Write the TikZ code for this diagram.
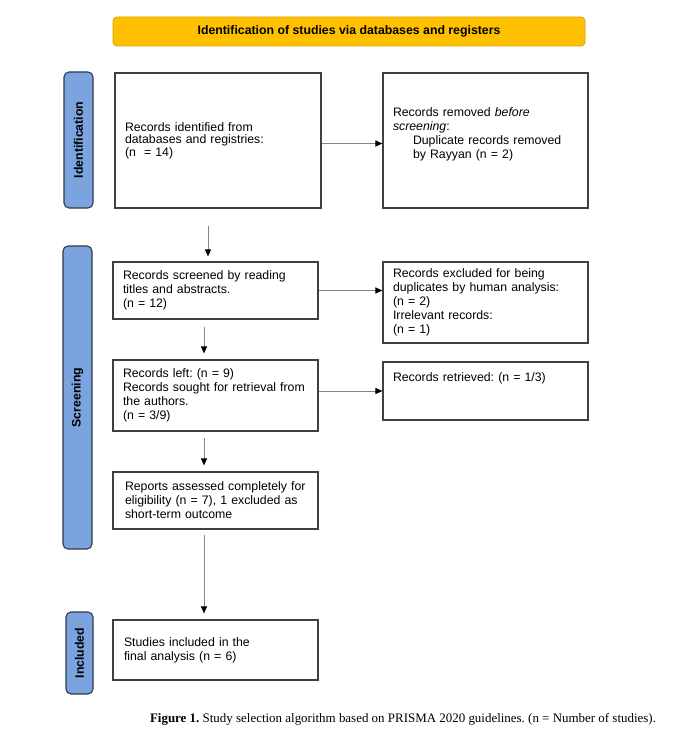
\documentclass[tikz,border=0pt]{standalone}
\usepackage{fontspec}
\setmainfont{Liberation Sans}
\newfontfamily\capfont{Liberation Serif}
\usetikzlibrary{arrows.meta}
\definecolor{bannerfill}{HTML}{FFC000}
\definecolor{bannerline}{HTML}{D9A400}
\definecolor{phasefill}{HTML}{7BA3DE}
\definecolor{phaseline}{HTML}{2E3A4E}
\definecolor{boxline}{HTML}{404040}
\definecolor{arrline}{HTML}{858585}
\newcommand\bxfont{\fontsize{12.3}{14}\selectfont}
\frenchspacing
\begin{document}
\frenchspacing
\begin{tikzpicture}[x=1pt,y=-1pt,
  box/.style={draw=boxline, line width=1.1pt, fill=white, inner xsep=10pt, inner ysep=0pt,
    align=left, font=\bxfont\frenchspacing, minimum width=205pt, text width=185pt},
  phase/.style={draw=phaseline, line width=1.1pt, fill=phasefill, rounded corners=5pt,
    rotate=90, inner sep=0pt, font=\bfseries\fontsize{12.3}{14}\selectfont},
  banner/.style={draw=bannerline, line width=0.8pt, fill=bannerfill, rounded corners=4pt,
    inner sep=0pt, font=\bfseries\fontsize{12.3}{14}\selectfont},
  arr/.style={draw=arrline, line width=1pt, -{Triangle[length=7pt,width=6pt,color=black]}}]
\useasboundingbox[fill=white] (0,0) rectangle (676,738);

\node[banner, minimum width=472pt, minimum height=29pt] (ban) at (349,31.5)
  {Identification of studies via databases and registers};

\node[phase, minimum width=136pt, minimum height=29pt] (p1) at (78.5,140) {Identification};
\node[phase, minimum width=303pt, minimum height=29pt] (p2) at (77.5,397.5) {Screening};
\node[phase, minimum width=82pt, minimum height=27pt] (p3) at (79.5,653) {Included};

\node[box, minimum width=206pt, text width=186pt, minimum height=135pt,
  font=\fontsize{12.3}{12.5}\selectfont\frenchspacing] (b1) at (218,140.5)
  {Records identified from\\ databases and registries:\\ (n\ \ = 14)};
\node[box, minimum height=135pt] (b2) at (485.5,140.5)
  {Records removed \textit{before}\\ \textit{screening}:\\
   \hspace*{20pt}Duplicate records removed\\ \hspace*{20pt}by Rayyan (n = 2)\\ \mbox{}};
\node[box, minimum height=57pt] (b3) at (215.5,290.5)
  {Records screened by reading\\ titles and abstracts.\\ (n = 12)};
\node[box, minimum height=71pt] (b4) at (215.5,395.5)
  {Records left: (n = 9)\\ Records sought for retrieval from\\ the authors.\\ (n = 3/9)};
\node[box, minimum height=81pt] (b5) at (485.5,302.5)
  {Records excluded for being\\ duplicates by human analysis:\\ (n = 2)\\ Irrelevant records:\\ (n = 1)};
\node[box, minimum height=58pt] (b6) at (485.5,391)
  {Records retrieved: (n = 1/3)\\ \mbox{}\\ \mbox{}};
\node[box, minimum height=57pt, inner xsep=12pt, text width=181pt] (b7) at (215.5,500.5)
  {Reports assessed completely for\\ eligibility (n = 7), 1 excluded as\\ short-term outcome};
\node[box, minimum height=60pt, inner xsep=11pt, text width=183pt] (b8) at (215.5,650)
  {Studies included in the\\ final analysis (n = 6)};

\coordinate (c0) at (208,226);
\coordinate (ax) at (204,0);

\draw[arr] ([yshift=-3pt]b1.east) -- ([yshift=-3pt]b2.west);
\draw[arr, shorten >=5pt] (c0) -- (b3.north -| c0);
\draw[arr, shorten <=7pt, shorten >=6pt] (b3.south -| ax) -- (b4.north -| ax);
\draw[arr] (b3.east) -- (b3.east -| b5.west);
\draw[arr] (b4.east |- b6.west) -- (b6.west);
\draw[arr, shorten <=6pt, shorten >=6pt] (b4.south -| ax) -- (b7.north -| ax);
\draw[arr, shorten <=5pt, shorten >=6pt] (b7.south -| ax) -- (b8.north -| ax);

\node[inner sep=0pt, font=\capfont\fontsize{12.95}{14}\selectfont\frenchspacing] (cap) at (403,719)
  {\textbf{Figure 1.} Study selection algorithm based on PRISMA 2020 guidelines. (n = Number of studies).};
\end{tikzpicture}
\end{document}
